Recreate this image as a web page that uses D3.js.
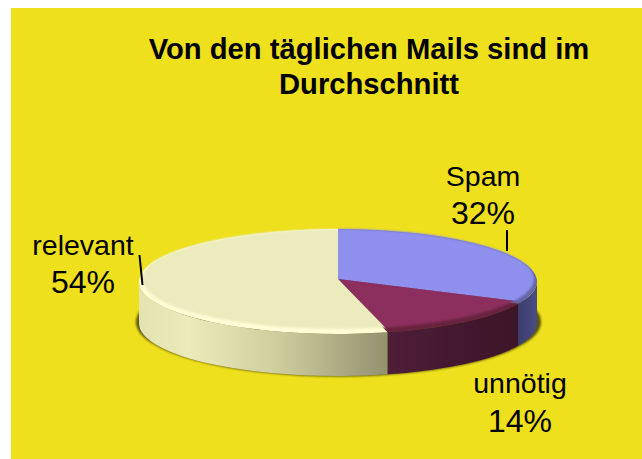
<!DOCTYPE html>
<html>
<head>
<meta charset="utf-8">
<script src="https://cdn.jsdelivr.net/npm/d3@7"></script>
<style>
  html, body { margin: 0; padding: 0; background: #fff; }
  svg { display: block; }
  text { font-family: "Liberation Sans", Arial, sans-serif; fill: #000; }
</style>
</head>
<body>
<script>
var categories = ["Spam", "unnötig", "relevant"];
var shares = [32, 14, 54];
var titleLines = ["Von den täglichen Mails sind im", "Durchschnitt"];

var topColors = ["#8f90ee", "#8c2f5e", "#ecebbd"];
var rimColors = ["#6466a8", "#69233f", "#fffdd6"];
// side gradient stops, left to right on screen
var sideStops = [
  [[0, "#3c3e6c"], [1, "#4a4c86"]],
  [[0, "#4f1e39"], [0.6, "#43172e"], [1, "#3d1528"]],
  [[0, "#e3e2b1"], [0.2, "#ebeabb"], [0.55, "#cfce9f"], [0.8, "#aeac84"], [1, "#94926f"]]
];

var width = 642, height = 459;
var cx = 338, cy = 281.5, rx = 199, ry = 52.5, depth = 42;
var innerCy = 279, innerRx = 196, innerRy = 50;

// label anchor + leader line per slice
var labelPos = [
  {x: 483, y: 186, dy: 38, line: [507, 230, 507, 251]},
  {x: 520, y: 393, dy: 39, line: null},
  {x: 83, y: 255, dy: 38, line: [139.5, 255, 142.5, 285]}
];

var svg = d3.select("body").append("svg")
    .attr("width", width)
    .attr("height", height);

var defs = svg.append("defs");

defs.append("filter").attr("id", "soft")
    .attr("x", "-5%").attr("y", "-10%").attr("width", "110%").attr("height", "120%")
  .append("feGaussianBlur").attr("stdDeviation", 1.2);

defs.append("mask").attr("id", "faceMask")
    .attr("maskUnits", "userSpaceOnUse")
    .attr("x", 0).attr("y", 0).attr("width", width).attr("height", height)
  .append("ellipse")
    .attr("cx", cx).attr("cy", innerCy)
    .attr("rx", innerRx).attr("ry", innerRy)
    .attr("fill", "#fff")
    .attr("filter", "url(#soft)");

svg.append("rect")
    .attr("x", 11).attr("y", 8)
    .attr("width", width - 11).attr("height", height - 8)
    .attr("fill", "#eee01c");

var pie = d3.pie().sort(null).value(function(d) { return d; });
var slices = pie(shares);
var arc = d3.arc().innerRadius(0).outerRadius(rx);

function px(a) { return cx + rx * Math.sin(a); }
function py(a) { return cy - ry * Math.cos(a); }

function sidePath(a0, a1) {
  return "M" + px(a0) + "," + py(a0) +
    "A" + rx + "," + ry + " 0 0 1 " + px(a1) + "," + py(a1) +
    "L" + px(a1) + "," + (py(a1) + depth) +
    "A" + rx + "," + ry + " 0 0 0 " + px(a0) + "," + (py(a0) + depth) + "Z";
}

// drop shadow under the disc
svg.append("ellipse")
    .attr("cx", cx + 0.5).attr("cy", cy + 40.5)
    .attr("rx", rx + 3.5).attr("ry", ry + 2)
    .attr("fill", "#5c5510")
    .attr("filter", "url(#soft)");

// only the front half of the rim can be seen
var visible = slices.map(function(d, i) {
  var a0 = Math.max(d.startAngle, Math.PI / 2),
      a1 = Math.min(d.endAngle, Math.PI * 1.5);
  return {i: i, a0: a0, a1: a1};
}).filter(function(d) { return d.a1 > d.a0; });

visible.forEach(function(d) {
  var g = defs.append("linearGradient")
      .attr("id", "side" + d.i)
      .attr("gradientUnits", "userSpaceOnUse")
      .attr("x1", Math.min(px(d.a0), px(d.a1))).attr("y1", 0)
      .attr("x2", Math.max(px(d.a0), px(d.a1))).attr("y2", 0);
  g.selectAll("stop").data(sideStops[d.i]).enter().append("stop")
      .attr("offset", function(s) { return s[0]; })
      .attr("stop-color", function(s) { return s[1]; });
});

svg.append("g").selectAll("path").data(visible).enter().append("path")
    .attr("d", function(d) { return sidePath(d.a0, d.a1); })
    .attr("fill", function(d) { return "url(#side" + d.i + ")"; });

// bevel ring, then the flat face on top of it
svg.append("g")
    .attr("transform", "translate(" + cx + "," + cy + ") scale(1," + (ry / rx) + ")")
  .selectAll("path").data(slices).enter().append("path")
    .attr("d", arc)
    .attr("fill", function(d, i) { return rimColors[i]; });

svg.append("g")
    .attr("mask", "url(#faceMask)")
  .append("g")
    .attr("transform", "translate(" + cx + "," + innerCy + ") scale(1," + (ry / rx) + ")")
  .selectAll("path").data(slices).enter().append("path")
    .attr("d", arc)
    .attr("fill", function(d, i) { return topColors[i]; });

// title
svg.append("g").selectAll("text").data(titleLines).enter().append("text")
    .attr("x", 369)
    .attr("y", function(d, i) { return 59 + i * 35; })
    .attr("text-anchor", "middle")
    .attr("font-size", 29.2)
    .attr("font-weight", "bold")
    .text(function(d) { return d; });

// labels
var labels = svg.append("g").selectAll("g").data(categories).enter().append("g");

labels.append("text")
    .attr("x", function(d, i) { return labelPos[i].x; })
    .attr("y", function(d, i) { return labelPos[i].y; })
    .attr("text-anchor", "middle")
    .attr("font-size", 28.5)
    .text(function(d) { return d; });

labels.append("text")
    .attr("x", function(d, i) { return labelPos[i].x; })
    .attr("y", function(d, i) { return labelPos[i].y + labelPos[i].dy; })
    .attr("text-anchor", "middle")
    .attr("font-size", 32)
    .text(function(d, i) { return shares[i] + "%"; });

labels.filter(function(d, i) { return labelPos[i].line; }).append("line")
    .each(function(d) {
      var l = labelPos[categories.indexOf(d)].line;
      d3.select(this)
          .attr("x1", l[0]).attr("y1", l[1])
          .attr("x2", l[2]).attr("y2", l[3]);
    })
    .attr("stroke", "#000")
    .attr("stroke-width", 2);
</script>
</body>
</html>
